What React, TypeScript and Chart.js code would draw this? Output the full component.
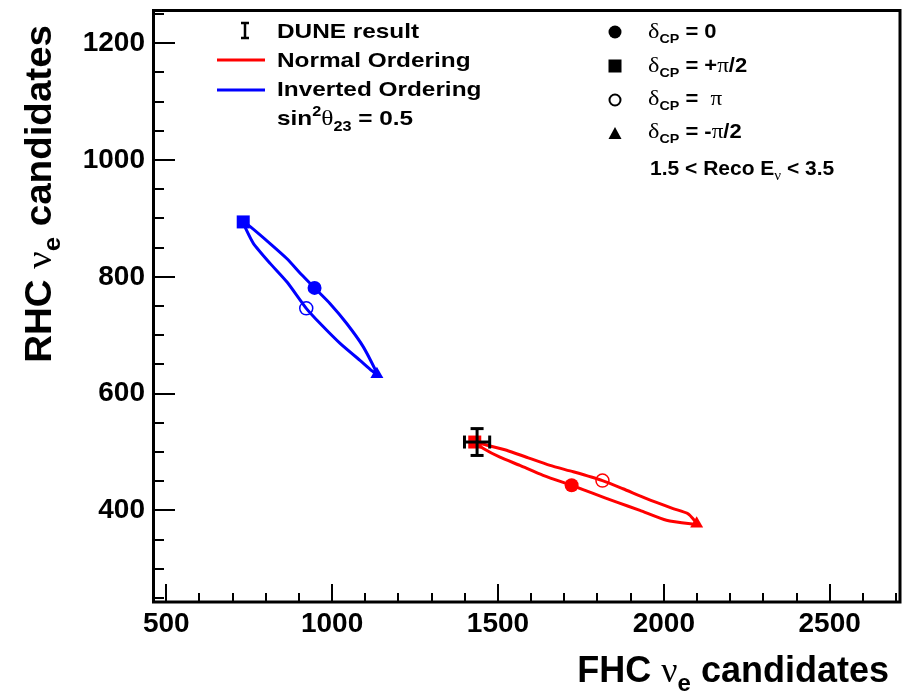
import React, { useEffect, useRef } from 'react';
import { Chart, registerables } from 'chart.js';
Chart.register(...registerables);

// ---- axes ----
const xTicks = [500, 1000, 1500, 2000, 2500];
const yTicks = [400, 600, 800, 1000, 1200];
const xMin = 460;
const xMax = 2712;
const yMin = 243;
const yMax = 1257;

// ---- Inverted Ordering contour (FHC, RHC) ----
const ioContourX = [947, 909, 864, 813, 753, 732, 740, 763, 813, 864, 922, 964, 1024, 1084, 1135, 1094, 1044, 994, 947];
const ioContourY = [781, 803, 831, 857, 886, 894, 882, 857, 823, 791, 746, 720, 686, 657, 633, 680, 720, 754, 781];

// ---- Normal Ordering contour ----
const noContourX = [1722, 1636, 1566, 1506, 1456, 1430, 1471, 1526, 1586, 1657, 1727, 1815, 1877, 1948, 2028, 2073, 2099, 2080, 2008, 1928, 1858, 1787, 1722];
const noContourY = [443, 460, 477, 491, 506, 517, 511, 503, 491, 477, 466, 451, 437, 420, 403, 394, 377, 377, 383, 400, 414, 429, 443];

// ---- delta_CP points: 0, +pi/2, pi, -pi/2 ----
const ioMarkerX = [947, 732, 922, 1135];
const ioMarkerY = [781, 894, 746, 633];
const noMarkerX = [1722, 1430, 1815, 2099];
const noMarkerY = [443, 517, 451, 377];

// ---- DUNE result ----
const duneX = 1437;
const duneY = 517;
const duneErrX = 38;
const duneErrY = 23;

const FAM = '"Liberation Sans", Arial, Helvetica, sans-serif';
const B = (s: number) => `bold ${s}px ${FAM}`;
const G = (s: number) => `${s}px "Liberation Serif", "DejaVu Serif", serif`;

type Seg = { t: string; f: string; dy?: number };
function drawRich(ctx: CanvasRenderingContext2D, segs: Seg[], x: number, y: number, align: 'left' | 'right', sx = 1) {
  ctx.save();
  let total = 0;
  const widths = segs.map((s) => {
    ctx.font = s.f;
    const w = ctx.measureText(s.t).width;
    total += w;
    return w;
  });
  ctx.translate(x, y);
  ctx.scale(sx, 1);
  let cx = align === 'right' ? -total : 0;
  ctx.textBaseline = 'alphabetic';
  ctx.textAlign = 'left';
  ctx.fillStyle = '#000';
  segs.forEach((s, i) => {
    ctx.font = s.f;
    ctx.fillText(s.t, cx, s.dy || 0);
    cx += widths[i];
  });
  ctx.restore();
}

const pts = (xs: number[], ys: number[]) => xs.map((x, i) => ({ x, y: ys[i] }));

const framePlugin = {
  id: 'frameAndLegend',
  afterDraw(chart: any) {
    const ctx: CanvasRenderingContext2D = chart.ctx;
    const { left, right, top, bottom } = chart.chartArea;
    const xs = chart.scales.x;
    const ys = chart.scales.y;
    ctx.save();
    // frame
    ctx.strokeStyle = '#000';
    ctx.lineWidth = 3;
    ctx.strokeRect(left + 0.5, top + 0.5, right - left - 0.5, bottom - top - 0.5);
    // ticks inside
    ctx.lineWidth = 2;
    ctx.beginPath();
    for (let v = 500; v <= xMax; v += 100) {
      const px = Math.round(xs.getPixelForValue(v));
      const len = v % 500 === 0 ? 18 : 9;
      ctx.moveTo(px, bottom);
      ctx.lineTo(px, bottom - len);
    }
    for (let v = 250; v <= yMax; v += 50) {
      const py = Math.round(ys.getPixelForValue(v));
      const len = v % 200 === 0 ? 22 : 11;
      ctx.moveTo(left, py);
      ctx.lineTo(left + len, py);
    }
    ctx.stroke();

    // axis titles
    drawRich(ctx, [
      { t: 'FHC ', f: B(36) },
      { t: 'ν', f: G(36) },
      { t: 'e', f: B(24), dy: 9 },
      { t: ' candidates', f: B(36) },
    ], 889, 682, 'right');
    ctx.save();
    ctx.translate(51, 25);
    ctx.rotate(-Math.PI / 2);
    drawRich(ctx, [
      { t: 'RHC ', f: B(36) },
      { t: 'ν', f: G(36) },
      { t: 'e', f: B(24), dy: 9 },
      { t: ' candidates', f: B(36) },
    ], 0, 0, 'right', 1.07);
    ctx.restore();

    // left legend
    ctx.strokeStyle = '#000';
    ctx.lineWidth = 2.5;
    ctx.beginPath();
    ctx.moveTo(245, 23); ctx.lineTo(245, 38);
    ctx.moveTo(241, 23); ctx.lineTo(249, 23);
    ctx.moveTo(241, 38); ctx.lineTo(249, 38);
    ctx.stroke();
    ctx.lineWidth = 3;
    ctx.strokeStyle = '#ff0000';
    ctx.beginPath(); ctx.moveTo(217, 60); ctx.lineTo(265, 60); ctx.stroke();
    ctx.strokeStyle = '#0000ff';
    ctx.beginPath(); ctx.moveTo(217, 90); ctx.lineTo(265, 90); ctx.stroke();
    const sx = 1.16;
    drawRich(ctx, [{ t: 'DUNE result', f: B(21) }], 277, 38, 'left', sx);
    drawRich(ctx, [{ t: 'Normal Ordering', f: B(21) }], 277, 67, 'left', sx);
    drawRich(ctx, [{ t: 'Inverted Ordering', f: B(21) }], 277, 96, 'left', sx);
    drawRich(ctx, [
      { t: 'sin', f: B(21) },
      { t: '2', f: B(14), dy: -9 },
      { t: 'θ', f: G(22) },
      { t: '23', f: B(14), dy: 6 },
      { t: ' = 0.5', f: B(21) },
    ], 277, 125, 'left', sx);

    // right legend markers
    const mx = 615;
    ctx.fillStyle = '#000';
    ctx.beginPath(); ctx.arc(mx, 32, 6.5, 0, Math.PI * 2); ctx.fill();
    ctx.fillRect(mx - 6.5, 66 - 6.5, 13, 13);
    ctx.strokeStyle = '#000'; ctx.lineWidth = 2;
    ctx.beginPath(); ctx.arc(mx, 100, 5.5, 0, Math.PI * 2); ctx.stroke();
    ctx.beginPath();
    ctx.moveTo(mx, 127); ctx.lineTo(mx + 6.5, 139); ctx.lineTo(mx - 6.5, 139); ctx.closePath(); ctx.fill();

    const dl = (rest: Seg[], y: number) =>
      drawRich(ctx, [{ t: 'δ', f: G(22) }, { t: 'CP', f: B(13), dy: 5 }, ...rest], 648, y, 'left', 1.1);
    dl([{ t: ' = 0', f: B(20) }], 38);
    dl([{ t: ' = +', f: B(20) }, { t: 'π', f: G(21) }, { t: '/2', f: B(20) }], 72);
    dl([{ t: ' =  ', f: B(20) }, { t: 'π', f: G(21) }], 105);
    dl([{ t: ' = -', f: B(20) }, { t: 'π', f: G(21) }, { t: '/2', f: B(20) }], 138);
    drawRich(ctx, [
      { t: '1.5 < Reco E', f: B(21) },
      { t: 'ν', f: G(15), dy: 5 },
      { t: ' < 3.5', f: B(21) },
    ], 650, 175, 'left');
    ctx.restore();
  },
};

const noPad = (s: any) => {
  s.paddingTop = 0;
  s.paddingBottom = 0;
  s.paddingLeft = 0;
  s.paddingRight = 0;
};

export default function App() {
  const ref = useRef<HTMLCanvasElement>(null);
  useEffect(() => {
    const markerStyles = ['circle', 'rect', 'circle', 'triangle'];
    const markerRadii = [7, 9.2, 6.5, 7.5];
    const chart = new Chart(ref.current as HTMLCanvasElement, {
      type: 'scatter',
      data: {
        datasets: [
          {
            data: [{ x: duneX - duneErrX, y: duneY }, { x: duneX + duneErrX, y: duneY }],
            showLine: true,
            borderColor: '#000',
            borderWidth: 3,
            pointStyle: 'line',
            pointRotation: 90,
            pointRadius: 6.5,
            pointBorderWidth: 3,
            pointBorderColor: '#000',
            order: 0,
          },
          {
            data: [{ x: duneX, y: duneY - duneErrY }, { x: duneX, y: duneY + duneErrY }],
            showLine: true,
            borderColor: '#000',
            borderWidth: 3,
            pointStyle: 'line',
            pointRotation: 0,
            pointRadius: 6.5,
            pointBorderWidth: 3,
            pointBorderColor: '#000',
            order: 0,
          },
          {
            data: pts(ioMarkerX, ioMarkerY),
            pointStyle: markerStyles,
            pointRadius: markerRadii,
            pointBackgroundColor: ['#0000ff', '#0000ff', 'rgba(0,0,0,0)', '#0000ff'],
            pointBorderColor: '#0000ff',
            pointBorderWidth: [0, 0, 1.5, 0],
            order: 1,
          },
          {
            data: pts(noMarkerX, noMarkerY),
            pointStyle: markerStyles,
            pointRadius: markerRadii,
            pointBackgroundColor: ['#ff0000', '#ff0000', 'rgba(0,0,0,0)', '#ff0000'],
            pointBorderColor: '#ff0000',
            pointBorderWidth: [0, 0, 1.5, 0],
            order: 1,
          },
          {
            data: pts(ioContourX, ioContourY),
            showLine: true,
            borderColor: '#0000ff',
            borderWidth: 3,
            pointRadius: 0,
            tension: 0.2,
            fill: false,
            order: 2,
          },
          {
            data: pts(noContourX, noContourY),
            showLine: true,
            borderColor: '#ff0000',
            borderWidth: 3,
            pointRadius: 0,
            tension: 0.2,
            fill: false,
            order: 2,
          },
        ] as any,
      },
      options: {
        animation: false,
        responsive: false,
        maintainAspectRatio: false,
        layout: { autoPadding: false, padding: { top: 10, right: 2, left: 0, bottom: 0 } },
        plugins: { legend: { display: false }, tooltip: { enabled: false } },
        scales: {
          x: {
            type: 'linear',
            min: xMin,
            max: xMax,
            afterBuildTicks: (s: any) => { s.ticks = xTicks.map((v) => ({ value: v })); },
            afterFit: (s: any) => { s.height = 92; noPad(s); },
            grid: { display: false, drawTicks: false },
            border: { display: false },
            ticks: {
              font: { family: FAM, size: 28, weight: 'bold' }, color: '#000', padding: 5, maxRotation: 0, autoSkip: false,
              callback: (v: any) => String(v),
            },
          },
          y: {
            type: 'linear',
            min: yMin,
            max: yMax,
            afterBuildTicks: (s: any) => { s.ticks = yTicks.map((v) => ({ value: v })); },
            afterFit: (s: any) => { s.width = 153; noPad(s); },
            grid: { display: false, drawTicks: false },
            border: { display: false },
            ticks: {
              font: { family: FAM, size: 28, weight: 'bold' }, color: '#000', padding: 8, autoSkip: false,
              callback: (v: any) => String(v),
            },
          },
        },
      } as any,
      plugins: [framePlugin],
    });
    return () => chart.destroy();
  }, []);
  return (
    <div style={{ position: 'absolute', left: 0, top: 0, width: 902, height: 694, background: '#fff' }}>
      <canvas ref={ref} width={902} height={694} style={{ display: 'block' }} />
    </div>
  );
}
